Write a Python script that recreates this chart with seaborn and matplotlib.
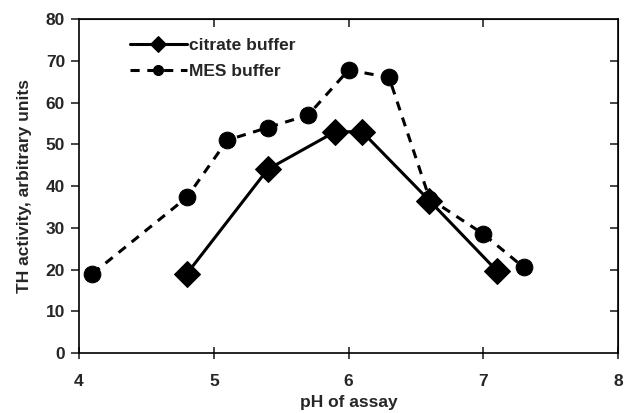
import matplotlib
matplotlib.use("Agg")
import matplotlib.pyplot as plt
import seaborn as sns
import pandas as pd

citrate_ph = [4.8, 5.4, 5.9, 6.1, 6.6, 7.1]
citrate_act = [19, 44, 53, 53, 36.5, 19.7]
mes_ph = [4.1, 4.8, 5.1, 5.4, 5.7, 6.0, 6.3, 6.6, 7.0, 7.3]
mes_act = [19, 37.3, 51, 54, 57, 67.8, 66, 37, 28.5, 20.5]

sns.set_style("ticks")
plt.rcParams['font.family'] = ['Liberation Sans', 'DejaVu Sans']
plt.rcParams['font.weight'] = 'bold'

fig = plt.figure(figsize=(6.27, 4.13), dpi=100)
ax = fig.add_axes([0.126, 0.145, 0.86, 0.809])

dfc = pd.DataFrame({"pH": citrate_ph, "act": citrate_act})
dfm = pd.DataFrame({"pH": mes_ph, "act": mes_act})

sns.lineplot(data=dfm, x="pH", y="act", ax=ax, color="black", lw=2.2,
             linestyle=(0, (3, 2.5)), marker="o", markersize=12,
             markeredgecolor="black", sort=False, label="MES buffer")
sns.lineplot(data=dfc, x="pH", y="act", ax=ax, color="black", lw=2.2,
             marker="D", markersize=13, markeredgecolor="black",
             sort=False, label="citrate buffer")

ax.set_xlim(4, 8)
ax.set_ylim(0, 80)
ax.set_xticks([4, 5, 6, 7, 8])
ax.set_yticks(range(0, 81, 10))
for s in ax.spines.values():
    s.set_linewidth(1.2)
    s.set_color("black")
ax.tick_params(axis='y', direction='out', length=6, width=1.2, labelsize=12.5, pad=4)
ax.tick_params(axis='x', direction='inout', length=8, width=1.2, labelsize=12.5, pad=11)
for t in ax.get_xticklabels() + ax.get_yticklabels():
    t.set_fontweight('bold')

sec = ax.secondary_yaxis('right')
sec.set_yticks(range(10, 80, 10))
sec.tick_params(direction='in', length=6, width=1.2, labelright=False)
secx = ax.secondary_xaxis('top')
secx.set_xticks([5, 6, 7])
secx.tick_params(direction='in', length=6, width=1.2, labeltop=False)

ax.set_xlabel("pH of assay", fontsize=12.5, fontweight='bold', labelpad=4)
ax.set_ylabel("TH activity, arbitrary units", fontsize=12.5, fontweight='bold', labelpad=10)

h, l = ax.get_legend_handles_labels()
leg = ax.legend([h[1], h[0]], [l[1], l[0]], loc='upper left',
                bbox_to_anchor=(0.068, 0.985), frameon=False, fontsize=12.5,
                handlelength=3.3, handletextpad=0.15, markerscale=0.6,
                borderaxespad=0.4, labelspacing=0.6)
for t in leg.get_texts():
    t.set_fontweight('bold')

fig.savefig("out.png", dpi=100)
